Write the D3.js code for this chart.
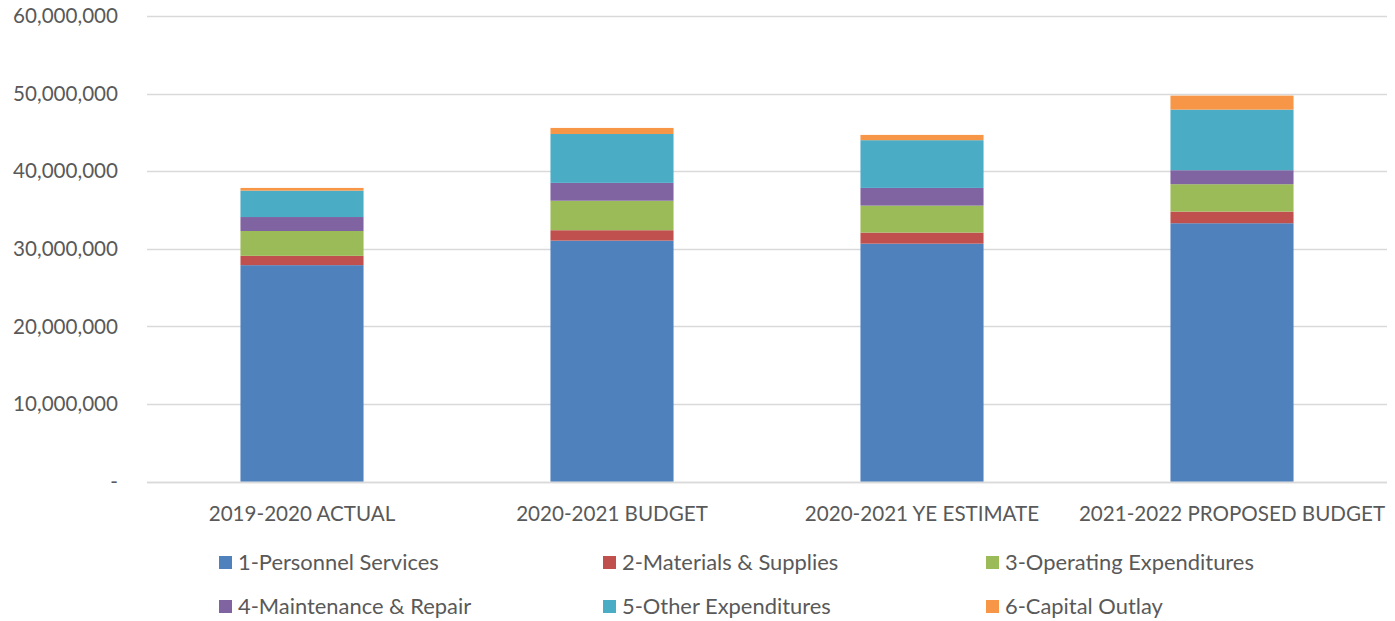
<!DOCTYPE html>
<html>
<head>
<meta charset="utf-8">
<script src="https://cdn.jsdelivr.net/npm/d3@7"></script>
<style>
  html, body { margin: 0; padding: 0; background: #ffffff; }
  svg { display: block; }
  text { font-family: Lato, "Liberation Sans", sans-serif; fill: #595959; }
</style>
</head>
<body>
<svg id="chart" width="1395" height="621"></svg>
<script>
// Fiscal periods on the x axis
const periods = ["2019-2020 ACTUAL", "2020-2021 BUDGET", "2020-2021 YE ESTIMATE", "2021-2022 PROPOSED BUDGET"];

// Expenditure categories (stack order, bottom to top)
const categories = ["1-Personnel Services", "2-Materials & Supplies", "3-Operating Expenditures",
                    "4-Maintenance & Repair", "5-Other Expenditures", "6-Capital Outlay"];

// Amounts per category, one value per period
const personnel   = [27900000, 31060000, 30670000, 33300000];
const materials   = [ 1200000,  1340000,  1430000,  1500000];
const operating   = [ 3200000,  3800000,  3470000,  3530000];
const maintenance = [ 1800000,  2300000,  2280000,  1800000];
const other       = [ 3400000,  6300000,  6150000,  7810000];
const capital     = [  350000,   780000,   680000,  1800000];

const yTicks = [0, 10000000, 20000000, 30000000, 40000000, 50000000, 60000000];

const colors = ["#4f81bd", "#c0504d", "#9bbb59", "#8064a2", "#4bacc6", "#f79646"];

const seriesValues = [personnel, materials, operating, maintenance, other, capital];
const rows = periods.map((p, i) => {
  const r = { period: p };
  categories.forEach((c, k) => { r[c] = seriesValues[k][i]; });
  return r;
});

const svg = d3.select("#chart");
const x0 = 147, plotW = 310 * 4;

const x = d3.scaleBand().domain(periods).range([x0, x0 + plotW]).paddingInner(0.603).paddingOuter(0.3015);
const y = d3.scaleLinear().domain([0, 60000000]).range([481.7, 16]);

// Horizontal gridlines
svg.append("g")
  .selectAll("line")
  .data(yTicks)
  .join("line")
  .attr("x1", x0).attr("x2", x0 + plotW)
  .attr("y1", d => Math.round(y(d)) + 0.5)
  .attr("y2", d => Math.round(y(d)) + 0.5)
  .attr("stroke", "#d9d9d9")
  .attr("stroke-width", 1.3);

// Y axis labels
const fmt = d3.format(",");
svg.append("g")
  .selectAll("text")
  .data(yTicks)
  .join("text")
  .attr("x", 118)
  .attr("y", d => y(d))
  .attr("dy", "0.35em")
  .attr("text-anchor", "end")
  .style("font-size", "20.6px")
  .text(d => d === 0 ? "-" : fmt(d));

// Stacked bars
const stacked = d3.stack().keys(categories)(rows);
svg.append("g")
  .selectAll("g")
  .data(stacked)
  .join("g")
  .attr("fill", (d, i) => colors[i])
  .selectAll("rect")
  .data(d => d)
  .join("rect")
  .attr("x", d => x(d.data.period))
  .attr("width", x.bandwidth())
  .attr("y", d => y(d[1]))
  .attr("height", d => y(d[0]) - y(d[1]));

// Baseline over the bars
svg.append("line")
  .attr("x1", x0).attr("x2", x0 + plotW)
  .attr("y1", 482.5).attr("y2", 482.5)
  .attr("stroke", "#d9d9d9").attr("stroke-width", 1.3);

// Category axis labels
svg.append("g")
  .selectAll("text")
  .data(periods)
  .join("text")
  .attr("x", d => x(d) + x.bandwidth() / 2)
  .attr("y", 521)
  .attr("text-anchor", "middle")
  .style("font-size", "20.6px")
  .text(d => d);

// Legend: three columns, two rows
const legendCols = [219, 603, 986];
const legendRows = [562, 606];
const legend = svg.append("g")
  .selectAll("g")
  .data(categories)
  .join("g")
  .attr("transform", (d, i) => `translate(${legendCols[i % 3]},${legendRows[Math.floor(i / 3)]})`);
legend.append("rect")
  .attr("x", 0).attr("y", -6)
  .attr("width", 13).attr("height", 13)
  .attr("fill", (d, i) => colors[i]);
legend.append("text")
  .attr("x", 19)
  .attr("y", 0)
  .attr("dy", "0.35em")
  .style("font-size", "21.9px")
  .text(d => d);
</script>
</body>
</html>
